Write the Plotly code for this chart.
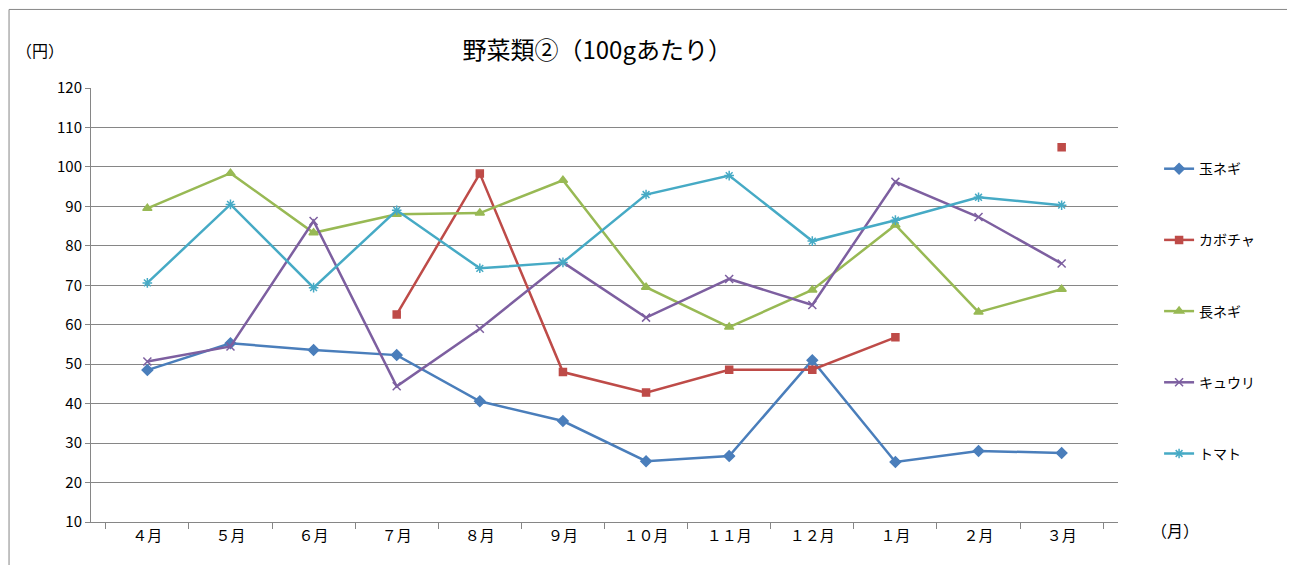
import plotly.graph_objects as go

months = ["４月", "５月", "６月", "７月", "８月", "９月", "１０月", "１１月", "１２月", "１月", "２月", "３月"]

onion = [48.5, 55.3, 53.6, 52.3, 40.6, 35.6, 25.4, 26.7, 51.0, 25.2, 28.0, 27.5]
pumpkin = [None, None, None, 62.6, 98.3, 48.0, 42.8, 48.6, 48.6, 56.8, None, 105.0]
leek = [89.5, 98.4, 83.3, 88.0, 88.3, 96.6, 69.5, 59.4, 68.8, 85.3, 63.2, 69.0]
cucumber = [50.7, 54.5, 86.3, 44.4, 59.0, 75.8, 61.8, 71.6, 65.0, 96.2, 87.3, 75.5]
tomato = [70.6, 90.5, 69.4, 89.0, 74.3, 75.8, 93.0, 97.8, 81.2, 86.5, 92.3, 90.3]

series = [
    ("玉ネギ", onion, "#4A7EBB", "diamond", 8),
    ("カボチャ", pumpkin, "#BE4B48", "square", 7),
    ("長ネギ", leek, "#98B954", "triangle-up", 8),
    ("キュウリ", cucumber, "#7D5FA0", "x-thin-open", 8),
    ("トマト", tomato, "#46AAC5", "asterisk-open", 8),
]

fig = go.Figure()
for name, vals, color, sym, size in series:
    fig.add_trace(go.Scatter(
        x=months, y=vals, name=name, mode="lines+markers",
        line=dict(color=color, width=2.5),
        marker=dict(symbol=sym, size=size, color=color, line=dict(color=color, width=1.5)),
        connectgaps=False, legendgroup=name,
    ))

fig.update_layout(
    width=1295, height=565,
    margin=dict(l=83, r=185, t=80, b=51, autoexpand=False),
    paper_bgcolor="white", plot_bgcolor="white",
    font=dict(family="Noto Sans CJK JP", size=15, color="#000"),
    title=dict(text="野菜類②（100gあたり）", x=0.455, y=0.925, yref="container",
               xanchor="center", yanchor="middle", font=dict(size=24), automargin=False),
    legend=dict(x=1.04, y=0.85, yanchor="top", tracegroupgap=50,
                font=dict(size=14)),
    showlegend=True,
)
fig.update_xaxes(type="category", showline=True, linecolor="#868686",
                 ticks="outside", tickson="boundaries", ticklen=6, tickcolor="#868686",
                 showgrid=False, automargin=False)
fig.update_yaxes(range=[10, 120], dtick=10, showgrid=True, gridcolor="#868686",
                 gridwidth=1, showline=True, linecolor="#868686",
                 ticks="outside", ticklen=5, tickcolor="#868686", zeroline=False,
                 automargin=False)

fig.add_annotation(text="（円）", xref="paper", yref="paper", x=-0.075, y=1.12,
                   xanchor="left", showarrow=False, font=dict(size=16))
fig.add_annotation(text="（月）", xref="paper", yref="paper", x=1.03, y=-0.05,
                   xanchor="left", showarrow=False, font=dict(size=16))
fig.add_shape(type="rect", xref="paper", yref="paper", x0=-0.0798, x1=1.1785, y0=-0.1145, y1=1.181,
              line=dict(color="#868686", width=1))

fig.write_html("out.html")
